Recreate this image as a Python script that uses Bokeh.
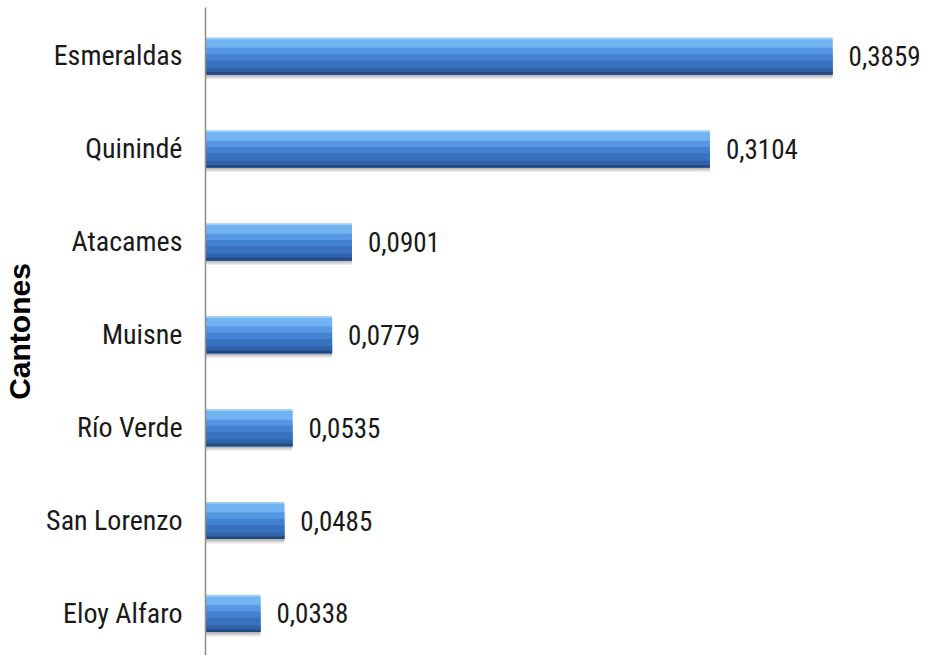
from bokeh.plotting import figure
from bokeh.models import Range1d, FixedTicker
from bokeh.core.properties import value
from bokeh.embed import file_html
from bokeh.resources import INLINE

cantones = ["Esmeraldas", "Quinindé", "Atacames", "Muisne", "Río Verde", "San Lorenzo", "Eloy Alfaro"]
valores = [0.3859, 0.3104, 0.0901, 0.0779, 0.0535, 0.0485, 0.0338]
axis_title = "Cantones"

n = len(cantones)
ys = [n - 1 - i for i in range(n)]
etiquetas = [f"{v:.4f}".replace(".", ",") for v in valores]

FONT = "Liberation Sans Narrow, Roboto Condensed, Lato"

p = figure(width=926, height=655, output_backend="svg", toolbar_location=None,
           x_axis_location=None, x_range=Range1d(0, 0.4437), y_range=Range1d(-0.453, 6.522),
           min_border_left=197, min_border_right=0, min_border_top=7, min_border_bottom=0)
p.outline_line_color = None
p.grid.visible = False
p.background_fill_color = "white"

H = 0.4
# shadow
for off, a in [(0.05, 0.07), (0.035, 0.10), (0.02, 0.12)]:
    p.hbar(y=[y - off for y in ys], left=0, right=valores, height=H, color="#000000",
           alpha=a, line_color=None)

strips = [
    (0.00, "#9fcdf6"),
    (0.05, "#72b4f2"),
    (0.28, "#5597e2"),
    (0.45, "#4282d1"),
    (0.62, "#3872bf"),
    (0.82, "#2f62a8"),
    (0.93, "#24497c"),
]
for f0, c in strips:
    p.hbar(y=[y + H / 2 - H * (f0 + 1) / 2 for y in ys], left=0, right=valores,
           height=H * (1 - f0), color=c, line_color=None)

p.text(x=valores, y=ys, text=etiquetas, x_offset=16, text_baseline="middle",
       text_font=value(FONT), text_font_size="27px", text_color="#1a1a1a")

ax = p.yaxis[0]
ax.ticker = FixedTicker(ticks=ys)
ax.major_label_overrides = {y: c for y, c in zip(ys, cantones)}
ax.major_tick_line_color = None
ax.minor_tick_line_color = None
ax.axis_line_color = "#8c8c8c"
ax.axis_line_width = 1.5
ax.major_label_standoff = 17
ax.major_label_text_font = FONT
ax.major_label_text_font_size = "28px"
ax.major_label_text_color = "#1a1a1a"
ax.axis_label = axis_title
ax.axis_label_text_font = "Liberation Sans"
ax.axis_label_text_font_style = "bold"
ax.axis_label_text_font_size = "30px"
ax.axis_label_text_color = "#000000"
ax.axis_label_standoff = 7

open("out.html", "w").write(file_html(p, INLINE))
